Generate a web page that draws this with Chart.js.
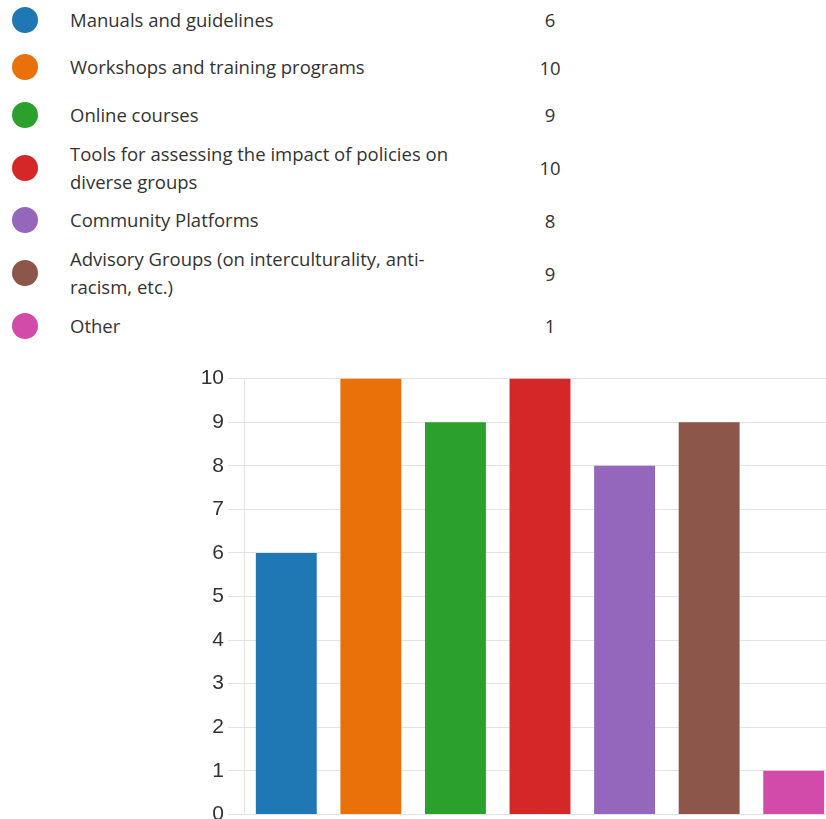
<!DOCTYPE html>
<html>
<head>
<meta charset="utf-8">
<script src="https://cdn.jsdelivr.net/npm/chart.js@4/dist/chart.umd.min.js"></script>
<style>
html, body { margin:0; padding:0; overflow:hidden; background:#fff; width:826px; height:819px; }
#legend { position:absolute; left:0; top:-4px; width:600px; font-family:"Open Sans", "Noto Sans", sans-serif; font-size:18.5px; color:#333; }
.row { display:flex; align-items:center; min-height:47.5px; padding:1px 0; box-sizing:border-box; }
.dot { width:26px; height:26px; border-radius:50%; margin-left:12px; flex:none; }
.lbl { margin-left:32px; width:395px; line-height:28px; }
.cnt { width:50px; text-align:center; margin-left:60px; }
#wrap { position:absolute; left:0; top:362px; }
</style>
</head>
<body>
<div id="legend"></div>
<div id="wrap"><canvas id="barChart" width="836" height="469"></canvas></div>
<script>
var categories = [
	"Manuals and guidelines",
	"Workshops and training programs",
	"Online courses",
	"Tools for assessing the impact of policies on diverse groups",
	"Community Platforms",
	"Advisory Groups (on interculturality, anti-racism, etc.)",
	"Other"
];
var counts = [6, 10, 9, 10, 8, 9, 1];
var yTicks = [0, 1, 2, 3, 4, 5, 6, 7, 8, 9, 10];

var colors = ["#1f77b4", "#ea700a", "#2ca02c", "#d62728", "#9467bd", "#8c564b", "#d34ba8"];

function buildLegend(){
	var html = "";
	for(var k=0;k<categories.length;k++){
		html += '<div class="row"><span class="dot" style="background:' + colors[k] + '"></span>' +
			'<span class="lbl">' + categories[k] + '</span>' +
			'<span class="cnt">' + counts[k] + '</span></div>';
	}
	document.getElementById("legend").innerHTML = html;
}

function initialBarChart(){
	var ctx = document.getElementById("barChart").getContext("2d");
	new Chart(ctx, {
		type: "bar",
		data: {
			labels: categories,
			datasets: [{
				data: counts,
				backgroundColor: colors,
				borderWidth: 0
			}]
		},
		options: {
			responsive: false,
			animation: false,
			devicePixelRatio: 1,
			layout: { padding: 0 },
			plugins: { legend: { display: false }, tooltip: { enabled: false } },
			scales: {
				x: {
					ticks: { display: false },
					grid: { display: false },
					border: { display: false }
				},
				y: {
					min: 0,
					max: 10,
					afterBuildTicks: function(scale){
						scale.ticks = yTicks.map(function(v){ return { value: v }; });
					},
					afterFit: function(scale){ scale.width = 244; },
					ticks: { color: "#333", font: { family: "Liberation Sans, Arial, sans-serif", size: 21 }, padding: 4 },
					grid: { color: "#e3e3e3", lineWidth: 1, tickLength: 16 },
					border: { display: true, color: "#e3e3e3" }
				}
			}
		}
	});
}

buildLegend();
initialBarChart();
</script>
</body>
</html>
